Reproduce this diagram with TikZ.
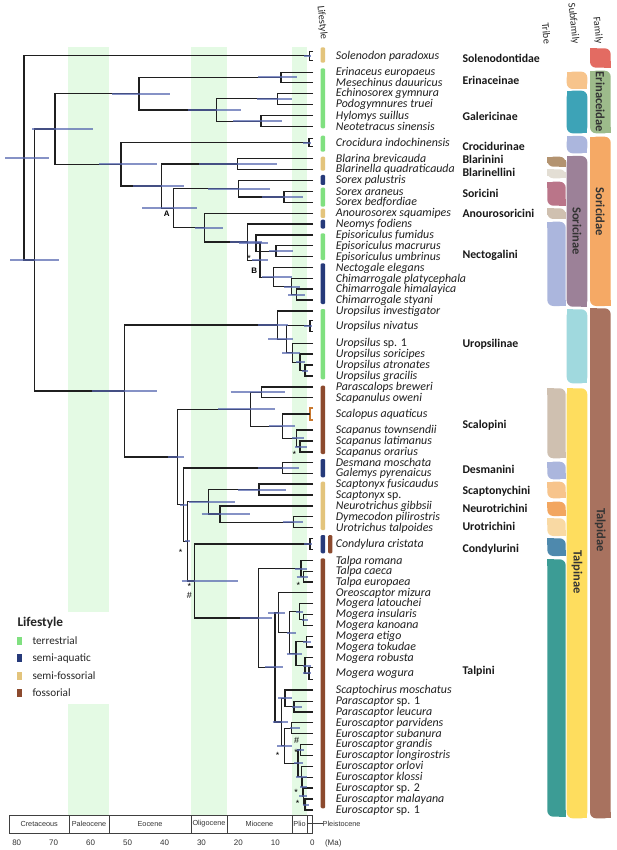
\documentclass[tikz,border=0pt]{standalone}
\usepackage{fontspec}
\setmainfont{Carlito}
\newfontfamily\axfont{Liberation Sans}
\usetikzlibrary{calc}
\pgfdeclarelayer{ebl}
\pgfsetlayers{main,ebl}
\definecolor{terr}{HTML}{80E080}
\definecolor{aqua}{HTML}{263A7A}
\definecolor{sfos}{HTML}{E3C47C}
\definecolor{foss}{HTML}{8C4A2E}
\definecolor{band}{HTML}{E4FAE4}
\definecolor{ebc}{HTML}{5464AE}
\definecolor{cSol}{HTML}{E36B62}
\definecolor{cEri}{HTML}{9DBB8B}
\definecolor{cSor}{HTML}{F5A965}
\definecolor{cTal}{HTML}{A8725F}
\definecolor{cErn}{HTML}{F7C48C}
\definecolor{cGal}{HTML}{3DA3B7}
\definecolor{cCro}{HTML}{ABB6DD}
\definecolor{cSrn}{HTML}{9C8198}
\definecolor{cUro}{HTML}{A0D9DE}
\definecolor{cTpn}{HTML}{FEDD5E}
\definecolor{cBla}{HTML}{B39370}
\definecolor{cBll}{HTML}{E3DED4}
\definecolor{cSoi}{HTML}{BA7589}
\definecolor{cAno}{HTML}{CFC0B0}
\definecolor{cNeu}{HTML}{F2A660}
\definecolor{cUrt}{HTML}{F9D9A3}
\definecolor{cCon}{HTML}{4E89AD}
\definecolor{cTpi}{HTML}{3C9C95}
\definecolor{cScl}{HTML}{C8782E}
\newcommand\mytip[3]{\coordinate (#1) at (313,#2);
  \node[tiplab] (#1l) at (335.7,#2+3.6) {#3};}
\newcommand\cld[6]{%
  \path ($(#3)!.5!(#4)$) coordinate (#1m);
  \coordinate (#1) at (#2,0 |- #1m);
  \draw[br] (#3) -- (#1 |- #3) -- (#1 |- #4) -- (#4);
  \begin{pgfonlayer}{ebl}\draw[eb] (#5,0 |- #1) -- (#6,0 |- #1);\end{pgfonlayer}}
\newcommand\btip[4]{%
  \coordinate (#1a) at (313,#2-#3);
  \coordinate (#1b) at (313,#2+#3);
  \cld{#1}{#4}{#1a}{#1b}{#4-6}{#4+1.5}}
\newcommand\lsb[3]{\fill[#1,rounded corners=1.2pt] (320.7,#2) rectangle (325.2,#3);}
\newcommand\leaf[5]{%
  \fill[#5,rounded corners=6pt] (#1,#3) rectangle (#2,#4);
  \fill[#5] (#1,#3) rectangle +(6.5,6.5);
  \fill[#5] (#2,#4) rectangle +(-6.5,-6.5);}
\newcommand\grp[3]{\node[grpl] (#1) at (462.3,#2+3.9) {#3};}
\begin{document}
\begin{tikzpicture}[x=1pt,y=-1pt,
  br/.style={line width=1.25pt,draw=black!88},
  eb/.style={line width=2pt,draw=ebc,opacity=0.7},
  tiplab/.style={anchor=base west,inner sep=0pt,font=\fontsize{11.9}{12}\selectfont\itshape,text=black!88},
  grpl/.style={anchor=base west,inner sep=0pt,font=\fontsize{11.8}{12}\selectfont\bfseries,text=black!90},
  rotl/.style={rotate=-90,inner sep=0pt,font=\fontsize{12.5}{13}\selectfont\bfseries,text=black!80},
  hdr/.style={rotate=-84,anchor=east,inner sep=0pt,font=\fontsize{10.3}{11}\selectfont,text=black!85},
  mk/.style={anchor=base,inner sep=0pt,font=\axfont\fontsize{9}{9}\selectfont},
  lab/.style={anchor=base,inner sep=0pt,font=\axfont\fontsize{8}{8}\selectfont\bfseries},
  axb/.style={draw=black!75,line width=0.6pt},
  axt/.style={inner sep=0pt,font=\axfont\fontsize{7.3}{8}\selectfont,text=black!80},
  legt/.style={anchor=base west,inner sep=0pt,font=\fontsize{11.2}{12}\selectfont,text=black!85}]
\useasboundingbox (0,0) rectangle (617,850);
\fill[white] (0,0) rectangle (617,850);
% geological bands
\fill[band] (68.3,47) rectangle (109,612);
\fill[band] (68.3,704) rectangle (109,815);
\fill[band] (191,47) rectangle (227,815);
\fill[band] (292,47) rectangle (306.7,815);
% tips
\mytip{er1}{72.3}{Erinaceus europaeus}
\mytip{er2}{82.7}{Mesechinus dauuricus}
\mytip{ga1}{93.3}{Echinosorex gymnura}
\mytip{ga2}{104.3}{Podogymnures truei}
\mytip{ga3}{115.7}{Hylomys suillus}
\mytip{ga4}{126.7}{Neotetracus sinensis}
\mytip{bl1}{158.7}{Blarina brevicauda}
\mytip{bl2}{169.3}{Blarinella quadraticauda}
\mytip{sx1}{180.3}{Sorex palustris}
\mytip{sx2}{191.7}{Sorex araneus}
\mytip{sx3}{202.3}{Sorex bedfordiae}
\mytip{an}{213.3}{Anourosorex squamipes}
\mytip{ne1}{224}{Neomys fodiens}
\mytip{ep1}{235}{Episoriculus fumidus}
\mytip{ep2}{245.7}{Episoriculus macrurus}
\mytip{ep3}{256.7}{Episoriculus umbrinus}
\mytip{nc1}{267.7}{Nectogale elegans}
\mytip{ch1}{278.7}{Chimarrogale platycephala}
\mytip{ch2}{289}{Chimarrogale himalayica}
\mytip{ch3}{300}{Chimarrogale styani}
\mytip{u1}{311}{Uropsilus investigator}
\mytip{u3}{343.3}{Uropsilus \upshape sp. 1}
\mytip{u4}{354}{Uropsilus soricipes}
\mytip{u5}{365}{Uropsilus atronates}
\mytip{u6}{376}{Uropsilus gracilis}
\mytip{sc1}{387}{Parascalops breweri}
\mytip{sc2}{397.7}{Scapanulus oweni}
\mytip{sc4}{430}{Scapanus townsendii}
\mytip{sc5}{441}{Scapanus latimanus}
\mytip{sc6}{452}{Scapanus orarius}
\mytip{de1}{462.7}{Desmana moschata}
\mytip{de2}{473.3}{Galemys pyrenaicus}
\mytip{sy1}{484}{Scaptonyx fusicaudus}
\mytip{sy2}{495}{Scaptonyx \upshape sp.}
\mytip{nu1}{506}{Neurotrichus gibbsii}
\mytip{nu2}{516.7}{Dymecodon pilirostris}
\mytip{nu3}{527.7}{Urotrichus talpoides}
\mytip{ta1}{560.7}{Talpa romana}
\mytip{ta2}{571.3}{Talpa caeca}
\mytip{ta3}{582}{Talpa europaea}
\mytip{or}{592.7}{Oreoscaptor mizura}
\mytip{mo1}{603.3}{Mogera latouchei}
\mytip{mo2}{614.3}{Mogera insularis}
\mytip{mo3}{625.3}{Mogera kanoana}
\mytip{mo4}{636.3}{Mogera etigo}
\mytip{mo5}{647}{Mogera tokudae}
\mytip{mo6}{657.7}{Mogera robusta}
\mytip{sh}{690}{Scaptochirus moschatus}
\mytip{pa1}{701.3}{Parascaptor \upshape sp. 1}
\mytip{pa2}{712}{Parascaptor leucura}
\mytip{eu1}{722.7}{Euroscaptor parvidens}
\mytip{eu2}{733.7}{Euroscaptor subanura}
\mytip{eu3}{744.3}{Euroscaptor grandis}
\mytip{eu4}{755.3}{Euroscaptor longirostris}
\mytip{eu5}{766.3}{Euroscaptor orlovi}
\mytip{eu6}{777.3}{Euroscaptor klossi}
\mytip{eu7}{788}{Euroscaptor \upshape sp. 2}
\mytip{eu8}{799}{Euroscaptor malayana}
\mytip{eu9}{810}{Euroscaptor \upshape sp. 1}
% bracket tips
\node[tiplab] (sol) at (335.7,55.7+3.6) {Solenodon paradoxus};
\node[tiplab] (crl) at (335.7,142.7+3.6) {Crocidura indochinensis};
\node[tiplab] (u2l) at (335.7,325.7+3.6) {Uropsilus nivatus};
\node[tiplab] (sc3l) at (335.7,414+3.6) {Scalopus aquaticus};
\node[tiplab] (col) at (335.7,544+3.6) {Condylura cristata};
\node[tiplab] (mo7l) at (335.7,673.3+3.6) {Mogera wogura};
\btip{so}{55.7}{4.5}{309.5}
\btip{cr}{142.7}{4}{309}
\btip{u2}{325.7}{5.5}{310}
\btip{co}{544}{5.5}{310}
\btip{mo7}{673.3}{6}{309}
\coordinate (sc3) at (310,414);
\draw[br,draw=cScl] (313,408) -- (310,408) -- (310,420) -- (313,420);
% Erinaceidae
\cld{ERa}{281}{er1}{er2}{258}{296.7}
\cld{GAb}{277.3}{ga1}{ga2}{256.7}{292.3}
\cld{GAc}{261}{ga3}{ga4}{233}{281.7}
\cld{GAa}{216.7}{GAb}{GAc}{188}{240.7}
\cld{ERo}{139}{ERa}{GAa}{111.7}{170}
% Soricidae
\cld{BB}{237.3}{bl1}{bl2}{199.3}{276.7}
\cld{SXb}{284}{sx2}{sx3}{261.7}{302.7}
\cld{SXa}{238.7}{sx1}{SXb}{208.3}{270}
\cld{EPb}{276}{ep2}{ep3}{269.3}{292.7}
\cld{EPa}{256}{ep1}{EPb}{239.3}{268.3}
\cld{CHb}{296.7}{ch2}{ch3}{288}{305}
\cld{CHa}{291.7}{ch1}{CHb}{284}{300}
\cld{NCa}{273.3}{nc1}{CHa}{261.7}{291.7}
\cld{NTb}{260}{EPa}{NCa}{252}{268}
\cld{NTa}{247.7}{ne1}{NTb}{230}{261.7}
\cld{ANa}{204.3}{an}{NTa}{195}{222.7}
\cld{NodeA}{173.3}{SXa}{ANa}{142.3}{196.7}
\cld{SNa}{161.7}{BB}{NodeA}{133.3}{184.3}
\cld{SOa}{121}{cr}{SNa}{99.3}{156.7}
\cld{ES}{55}{ERo}{SOa}{32.3}{92.7}
% Uropsilinae
\cld{Ue}{305}{u5}{u6}{302}{308}
\cld{Ud}{300}{u4}{Ue}{296}{305}
\cld{Uc}{292.3}{u3}{Ud}{282.3}{300}
\cld{Ub}{286.7}{u2}{Uc}{268.3}{293.3}
\cld{Ua}{277.7}{u1}{Ub}{258.3}{288.3}
% Scalopini
\cld{SLb}{261.7}{sc1}{sc2}{230.7}{285}
\cld{SLe}{300}{sc5}{sc6}{295}{307}
\cld{SLd}{296.7}{sc4}{SLe}{292}{304}
\cld{SLc}{282.3}{sc3}{SLd}{269.3}{295}
\cld{SLa}{250.7}{SLb}{SLc}{218.3}{275}
% Desmanini etc
\cld{DS}{282.7}{de1}{de2}{258.3}{299.3}
\cld{SY}{259}{sy1}{sy2}{238.3}{285.7}
\cld{URb}{293.3}{nu2}{nu3}{282.7}{302.7}
\cld{URa}{220}{nu1}{URb}{201.7}{250}
\cld{Tfour}{208.3}{SY}{URa}{189.3}{235}
% Talpini
\cld{TTb}{303.3}{ta2}{ta3}{296.7}{308.3}
\cld{TTa}{301}{ta1}{TTb}{295}{307.3}
\cld{Mb}{303.3}{mo2}{mo3}{301.7}{308.3}
\cld{Ma}{299.3}{mo1}{Mb}{296}{303.3}
\cld{Me}{306.7}{mo4}{mo5}{303}{311}
\cld{Md}{305}{mo6}{mo7}{303.3}{310.7}
\cld{Mc}{296}{Me}{Md}{286.7}{301.7}
\cld{Mo}{289.3}{Ma}{Mc}{286.7}{296}
\cld{OM}{278.3}{or}{Mo}{268.3}{285}
\cld{Pb}{294}{pa1}{pa2}{292}{301.7}
\cld{Pa}{285}{sh}{Pb}{278.3}{291.7}
\cld{Eb}{291.7}{eu1}{eu2}{290}{300}
\cld{Ec}{300.5}{eu3}{eu4}{297}{304}
\cld{Eh}{305}{eu8}{eu9}{302.7}{309.3}
\cld{Eg}{303.5}{eu7}{Eh}{299}{306.7}
\cld{Ef}{302.5}{eu6}{Eg}{300}{307}
\cld{Ee}{301.5}{eu5}{Ef}{296}{307}
\cld{Ed}{298}{Ec}{Ee}{294}{303.3}
\cld{Ea}{284.3}{Eb}{Ed}{277.3}{291.7}
\cld{Sa}{281.7}{Pa}{Ea}{272.7}{288.3}
\cld{TB}{275}{OM}{Sa}{265}{283.3}
\cld{TA}{258.3}{TTa}{TB}{240}{271.7}
\cld{Tfive}{194.3}{co}{TA}{181.7}{238.3}
\cld{Tthree}{187.7}{Tfour}{Tfive}{185}{190}
\cld{Ttwo}{183.3}{DS}{Tthree}{180}{187}
\cld{TP}{177.7}{SLa}{Ttwo}{168}{184}
\cld{TL}{124.3}{Ua}{TP}{91.7}{156.7}
\cld{EU}{34.3}{ES}{TL}{10}{59.3}
\cld{Root}{24}{so}{EU}{5}{49.3}
% node marks
\node[mk] (m1) at (249,256.5+5) {*};
\node[lab] (labA) at (166.7,214+2.9) {A};
\node[lab] (labB) at (254.3,271+2.9) {B};
\node[mk] (m2) at (294.3,452.7+5) {*};
\node[mk] (m3) at (180.7,550.7+5) {*};
\node[mk] (m4) at (189.3,584.5+5) {*};
\node[mk] (h1) at (189.3,595.5+3.2) {\#};
\node[mk] (m5) at (298.3,583+5) {*};
\node[mk] (h2) at (296.7,740.5+3.2) {\#};
\node[mk] (m6) at (296,750+5) {*};
\node[mk] (m7) at (277.5,753+5) {*};
\node[mk] (m8) at (296,790+5) {*};
\node[mk] (m9) at (297.7,801+5) {*};
% lifestyle bars
\lsb{sfos}{47.3}{62.7}
\lsb{terr}{68.3}{128.3}
\lsb{terr}{135.7}{151.7}
\lsb{sfos}{156.7}{170.7}
\lsb{aqua}{175}{185}
\lsb{terr}{187.7}{206.7}
\lsb{sfos}{208.7}{218}
\lsb{aqua}{219.7}{228.5}
\lsb{terr}{233.3}{260}
\lsb{aqua}{263.3}{304}
\lsb{terr}{309}{379.3}
\lsb{foss}{385.7}{454}
\lsb{aqua}{459}{477.3}
\lsb{sfos}{481.7}{530}
\lsb{aqua}{535}{553.3}
\fill[foss,rounded corners=1.2pt] (328.1,535) rectangle (332.4,553.3);
\lsb{foss}{558.3}{808.3}
% group labels
\grp{g1}{59}{Solenodontidae}
\grp{g2}{80.7}{Erinaceinae}
\grp{g3}{116.7}{Galericinae}
\grp{g4}{146.7}{Crocidurinae}
\grp{g5}{159.3}{Blarinini}
\grp{g6}{172.3}{Blarinellini}
\grp{g7}{193.3}{Soricini}
\grp{g8}{214}{Anourosoricini}
\grp{g9}{254.3}{Nectogalini}
\grp{g10}{343.3}{Uropsilinae}
\grp{g11}{424.3}{Scalopini}
\grp{g12}{470}{Desmanini}
\grp{g13}{491}{Scaptonychini}
\grp{g14}{508.3}{Neurotrichini}
\grp{g15}{527}{Urotrichini}
\grp{g16}{548.3}{Condylurini}
\grp{g17}{671}{Talpini}
% tribe bars
\leaf{547.3}{565.7}{156.7}{166.7}{cBla}
\leaf{547.3}{565.7}{169.3}{178.3}{cBll}
\leaf{547.3}{565.7}{181.7}{205.7}{cSoi}
\leaf{547.3}{565.7}{208.3}{219}{cAno}
\leaf{547.3}{565.7}{221.7}{306}{cCro}
\leaf{547.3}{565.7}{388.3}{458.3}{cAno}
\leaf{547.3}{565.7}{461.7}{479.3}{cCro}
\leaf{547.3}{565.7}{481.7}{498.3}{cErn}
\leaf{547.3}{565.7}{501.7}{516}{cNeu}
\leaf{547.3}{565.7}{518.3}{536}{cUrt}
\leaf{547.3}{565.7}{538.3}{556}{cCon}
\leaf{547.3}{565.7}{559.3}{816.7}{cTpi}
% subfamily bars
\leaf{566.7}{587.3}{71.7}{89}{cErn}
\leaf{566.7}{587.3}{90.7}{133.3}{cGal}
\leaf{566.7}{587.3}{136}{153.3}{cCro}
\leaf{566.7}{587.3}{156}{306.7}{cSrn}
\leaf{566.7}{587.3}{309.3}{383.3}{cUro}
\leaf{566.7}{587.3}{388.3}{818.3}{cTpn}
% family bars
\leaf{590}{610.7}{48.3}{67.7}{cSol}
\leaf{590}{610.7}{70.7}{133.3}{cEri}
\leaf{590}{610.7}{136.7}{306}{cSor}
\leaf{590}{610.7}{308.3}{818.3}{cTal}
\node[rotl] (r1) at (600.3,102) {Erinaceidae};
\node[rotl] (r2) at (600.3,211.7) {Soricidae};
\node[rotl] (r3) at (577,231) {Soricinae};
\node[rotl] (r4) at (577,572) {Talpinae};
\node[rotl] (r5) at (600.3,530) {Talpidae};
% headers
\node[hdr] (h-life) at (324,40) {Lifestyle};
\node[hdr] (h-tribe) at (547.5,44) {Tribe};
\node[hdr] (h-sub) at (575.5,44) {Subfamily};
\node[hdr] (h-fam) at (599,44) {Family};
% legend
\node[anchor=base west,inner sep=0pt,font=\fontsize{13.3}{14}\selectfont\bfseries,text=black!85] (legh) at (17.3,621.7+4.4) {Lifestyle};
\fill[terr] (16.7,637) rectangle (21.7,645);
\fill[aqua] (16.7,653.7) rectangle (21.7,661.7);
\fill[sfos] (16.7,672) rectangle (21.7,680);
\fill[foss] (16.7,689.3) rectangle (21.7,697.3);
\node[legt] (lg1) at (32.3,641+3.6) {terrestrial};
\node[legt] (lg2) at (32.3,657.7+3.6) {semi-aquatic};
\node[legt] (lg3) at (32.3,676+3.6) {semi-fossorial};
\node[legt] (lg4) at (32.3,693.3+3.6) {fossorial};
% time scale
\draw[axb] (9.3,815) rectangle (69,833);
\draw[axb] (69,815) rectangle (109,833);
\draw[axb] (109,815) rectangle (191,833);
\draw[axb] (191,815) rectangle (227,833);
\draw[axb] (227,815) rectangle (292,833);
\draw[axb] (292,815) rectangle (307,833);
\draw[axb] (307,815) rectangle (312.3,833);
\node[axt] (p1) at (39.2,824) {Cretaceous};
\node[axt] (p2) at (89,824) {Paleocene};
\node[axt] (p3) at (150,824) {Eocene};
\node[axt] (p4) at (209,824) {Oligocene};
\node[axt] (p5) at (259.5,824) {Miocene};
\node[axt] (p6) at (299.5,824) {Plio};
\coordinate (plA) at (307,823.5);
\node[axt,anchor=west] (p7) at (322.5,823.5) {Pleistocene};
\draw[black!75,line width=0.6pt] (plA) -- (p7.west);
\foreach \a in {0,10,...,80} {\node[axt,font=\axfont\fontsize{8}{8}\selectfont] at ({312.3-3.695*\a},843) {\a};}
\node[axt,font=\axfont\fontsize{8}{8}\selectfont] (ma) at (333.3,843) {(Ma)};
\end{tikzpicture}
\end{document}
